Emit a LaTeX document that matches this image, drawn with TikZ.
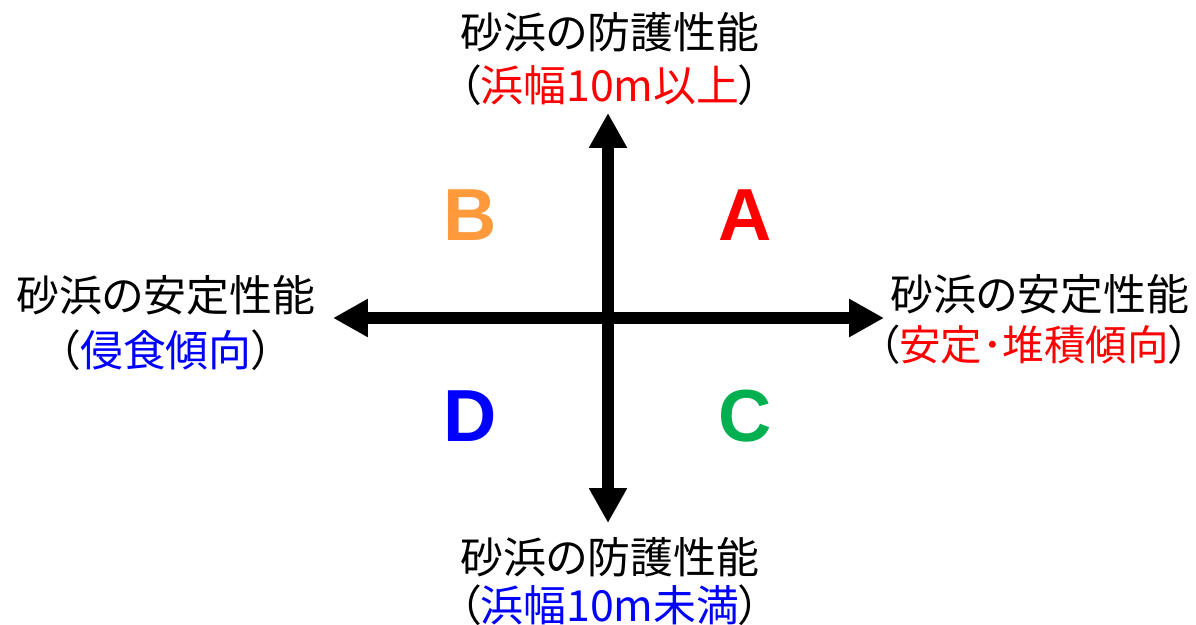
\documentclass[tikz,border=0pt]{standalone}
\usepackage{fontspec}
\setmainfont{Liberation Sans}
\newfontfamily\jpfont[CharacterWidth=AlternateProportional]{Noto Sans CJK JP}
\usetikzlibrary{arrows.meta}

\definecolor{qred}{HTML}{FF0000}
\definecolor{qorange}{HTML}{FF9A3C}
\definecolor{qgreen}{HTML}{00B050}
\definecolor{qblue}{HTML}{0000FF}

\begin{document}
\begin{tikzpicture}[x=0.02cm,y=-0.02cm,
    jp/.style={font=\jpfont\fontsize{24.4}{28}\selectfont,inner sep=0pt},
    quad/.style={font=\bfseries\fontsize{42}{48}\selectfont,inner sep=0pt},
    axis/.style={line width=6.8pt,{Triangle[length=0.7cm,width=0.72cm]}-{Triangle[length=0.7cm,width=0.72cm]}}]
      \useasboundingbox (0,0) rectangle (1196,625);
      % \draw[help lines,step=50](0,0) grid (1196,625);

      \coordinate (ytop) at (608,113);
      \coordinate (ybot) at (608,523);
      \coordinate (xleft) at (333,318);
      \coordinate (xright) at (884,318);

      \draw[axis] (ybot) -- (ytop);
      \draw[axis] (xleft) -- (xright);

      % labels of the axes
      \draw (610,32) node[jp] (topone) {砂浜の防護性能};
      \draw (610,85) node[jp] (toptwo) {（\textcolor{qred}{浜幅10m以上}）};
      \draw (610,557) node[jp] (botone) {砂浜の防護性能};
      \draw (610,605) node[jp] (bottwo) {（\textcolor{qblue}{浜幅10m未満}）};
      \draw (166,295) node[jp] (leftone) {砂浜の安定性能};
      \draw (166,350) node[jp] (lefttwo) {（\textcolor{qblue}{侵食傾向}）};
      \draw (1040,294) node[jp] (rightone) {砂浜の安定性能};
      \draw (1034,345) node[jp,font=\jpfont\fontsize{23.6}{28}\selectfont] (righttwo) {（\textcolor{qred}{安定･堆積傾向}）};

      % quadrants
      \draw (745,215) node[quad,qred] (qa) {A};
      \draw (470,215) node[quad,qorange] (qb) {B};
      \draw (745,416) node[quad,qgreen] (qc) {C};
      \draw (470,416) node[quad,qblue] (qd) {D};
    \end{tikzpicture}
\end{document}
